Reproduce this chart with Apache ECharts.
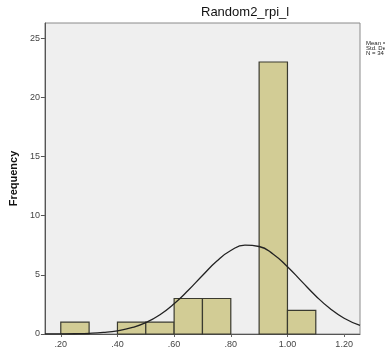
<!DOCTYPE html>
<html>
<head>
<meta charset="utf-8">
<script src="https://cdn.jsdelivr.net/npm/echarts@6/dist/echarts.min.js"></script>
<style>
  html, body { margin: 0; padding: 0; background: #fff; }
  #chart { width: 385px; height: 351px; }
</style>
</head>
<body>
<div id="chart"></div>
<script>
// histogram bins (lower edge, upper edge) and frequencies
const binStart = [0.2, 0.3, 0.4, 0.5, 0.6, 0.7, 0.8, 0.9, 1.0];
const binEnd = [0.3, 0.4, 0.5, 0.6, 0.7, 0.8, 0.9, 1.0, 1.1];
const counts = [1, 0, 1, 1, 3, 3, 0, 23, 2];

// normal curve
const curveX = [0.144, 0.2, 0.25, 0.3, 0.35, 0.4, 0.45, 0.5, 0.55, 0.6, 0.65, 0.7, 0.75, 0.8,
  0.85, 0.9, 0.95, 1.0, 1.05, 1.1, 1.15, 1.2, 1.256];
const curveY = [0.003, 0.008, 0.022, 0.055, 0.13, 0.27, 0.53, 0.96, 1.63, 2.56, 3.7, 4.95, 6.15, 7.06,
  7.51, 7.4, 6.75, 5.69, 4.45, 3.22, 2.15, 1.33, 0.72];

const xTickValues = [0.2, 0.4, 0.6, 0.8, 1.0, 1.2];
const xTickLabels = ['.20', '.40', '.60', '.80', '1.00', '1.20'];

const titleText = 'Random2_rpi_l';
const statsLines = ['Mean = .86', 'Std. Dev. = .183', 'N = 34'];

const chart = echarts.init(document.getElementById('chart'));

const barData = binStart.map((s, i) => [s, binEnd[i], counts[i]]).filter(d => d[2] > 0);
const lineData = curveX.map((x, i) => [x, curveY[i]]);

const option = {
  animation: false,
  textStyle: { fontFamily: 'Liberation Sans, Arial, sans-serif' },
  title: {
    text: titleText,
    left: 196,
    top: 1,
    textStyle: { fontSize: 13, fontWeight: 'normal', color: '#111' },
  },
  grid: {
    left: 44,
    right: 25,
    top: 23,
    bottom: 17,
    show: true,
    backgroundColor: '#efefef',
    borderColor: '#8a8a8a',
    borderWidth: 1,
  },
  xAxis: {
    type: 'value',
    min: 0.144,
    max: 1.256,
    splitLine: { show: false },
    axisLine: { onZero: false, lineStyle: { color: '#555', width: 1 } },
    axisTick: {
      show: true,
      length: 3,
      customValues: xTickValues,
      lineStyle: { color: '#666' },
    },
    axisLabel: {
      customValues: xTickValues,
      formatter: (v) => xTickLabels[xTickValues.findIndex(t => Math.abs(t - v) < 1e-6)] ?? '',
      fontSize: 9,
      color: '#444',
      margin: 6,
    },
  },
  yAxis: {
    type: 'value',
    min: 0,
    max: 26.3,
    interval: 5,
    name: 'Frequency',
    nameLocation: 'middle',
    nameRotate: 90,
    nameGap: 24,
    nameTextStyle: { fontSize: 11, fontWeight: 'bold', color: '#111' },
    splitLine: { show: false },
    axisLine: { show: true, lineStyle: { color: '#555', width: 1 } },
    axisTick: { show: true, inside: false, length: 4, lineStyle: { color: '#555' } },
    axisLabel: { fontSize: 9, color: '#444', margin: 5, showMaxLabel: false },
  },
  graphic: statsLines.map((t, i) => ({
    type: 'text',
    left: 366,
    top: 40 + i * 5,
    style: { text: t, fontSize: 6, fill: '#222', fontFamily: 'Liberation Sans, Arial, sans-serif' },
  })),
  series: [
    {
      type: 'custom',
      data: barData,
      renderItem: (params, api) => {
        const p0 = api.coord([api.value(0), api.value(2)]);
        const p1 = api.coord([api.value(1), 0]);
        return {
          type: 'rect',
          shape: { x: p0[0], y: p0[1], width: p1[0] - p0[0], height: p1[1] - p0[1] },
          style: { fill: '#d2cc95', stroke: '#3a3a30', lineWidth: 1.2 },
        };
      },
      encode: { x: [0, 1], y: 2 },
      z: 2,
    },
    {
      type: 'line',
      data: lineData,
      smooth: true,
      showSymbol: false,
      lineStyle: { color: '#222', width: 1.3 },
      z: 3,
    },
  ],
};

chart.setOption(option);
</script>
</body>
</html>
